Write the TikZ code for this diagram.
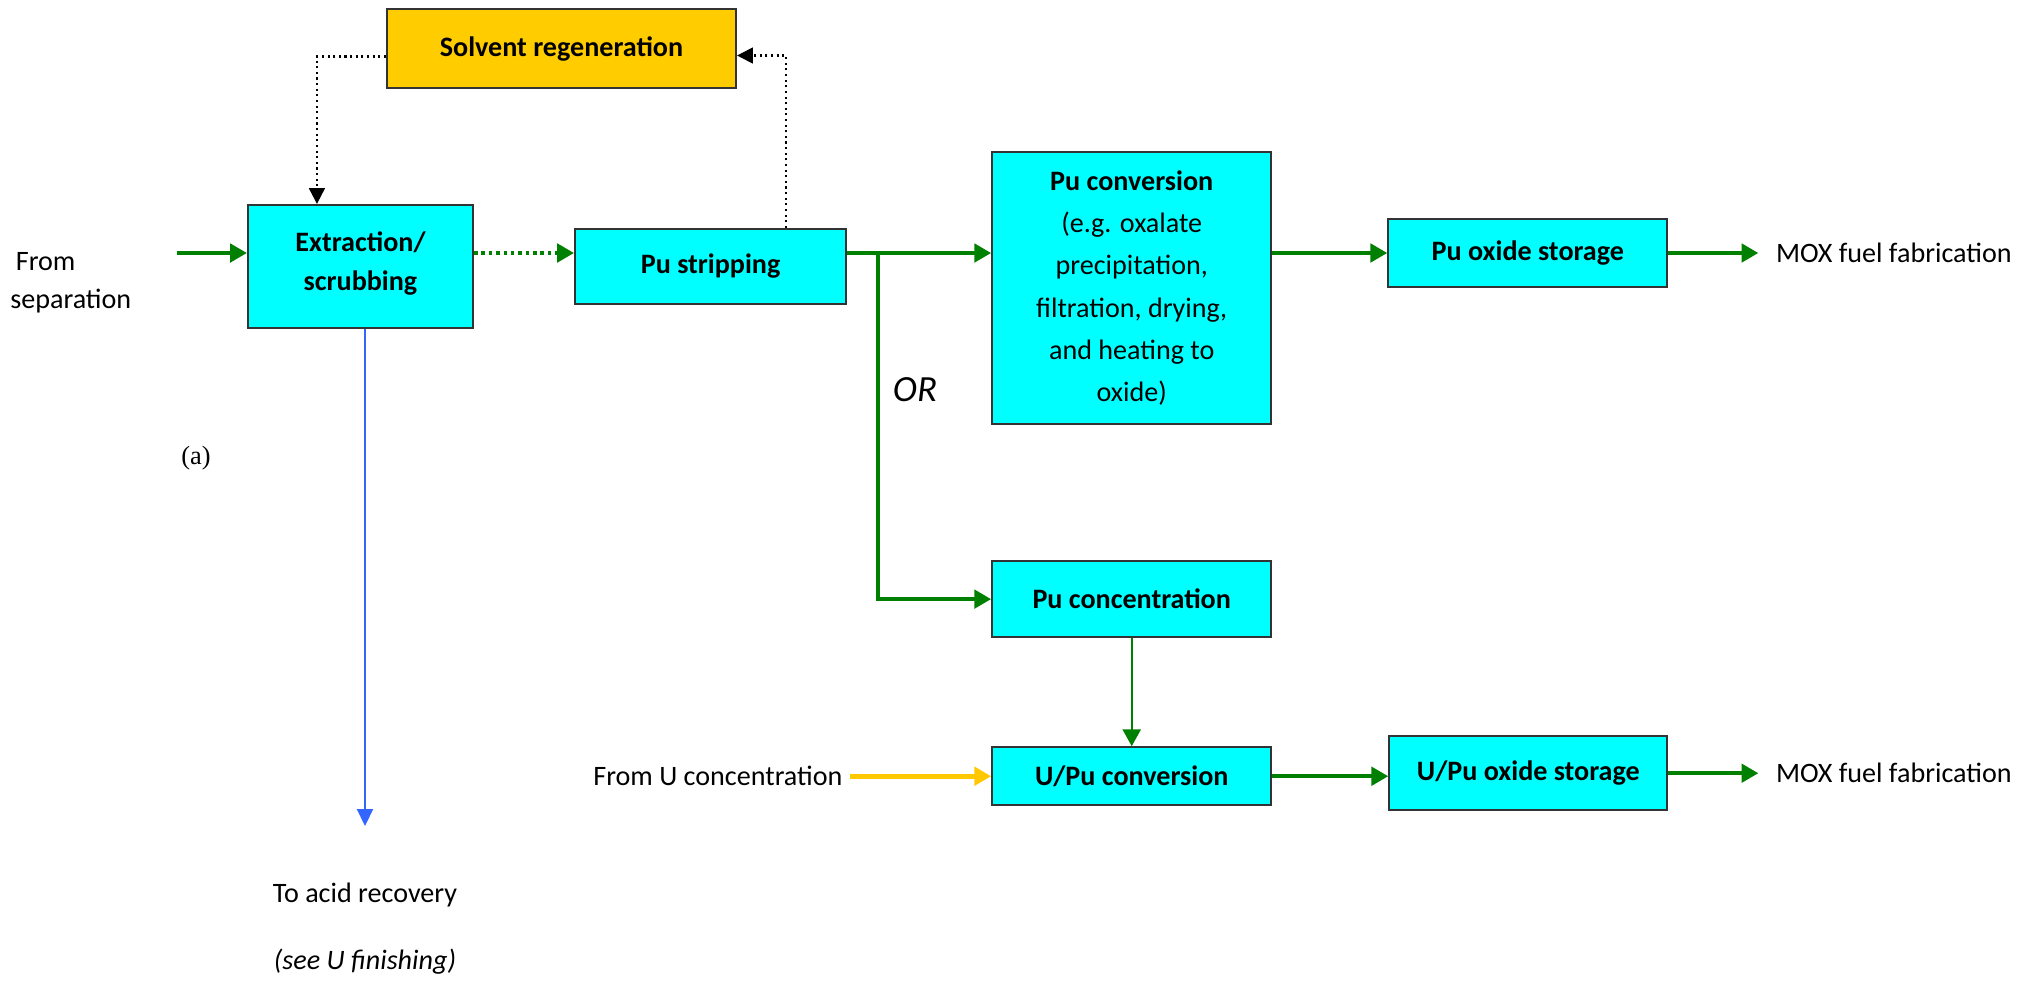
\documentclass[tikz,border=0pt]{standalone}
\usepackage{fontspec}
\setmainfont{Carlito}
\newfontfamily\serifcap{Liberation Serif}
\usetikzlibrary{arrows.meta,positioning,calc}
\definecolor{boxcyan}{HTML}{00FFFF}
\definecolor{solvgold}{HTML}{FFCC00}
\definecolor{flowgreen}{HTML}{008000}
\definecolor{acidblue}{HTML}{3366FF}
\definecolor{feedgold}{HTML}{FFC800}
\tikzstyle{block}=[draw=black!80, line width=0.6pt, fill=boxcyan, align=center, font=\bfseries]
\tikzstyle{txt}=[inner sep=2pt, align=left]
\tikzstyle{arrow}=[line width=1.15pt, draw=flowgreen, -{Triangle[length=4.8pt,width=5.2pt]}]
\tikzstyle{loopline}=[line width=0.6pt, densely dotted, -{Triangle[length=4.5pt,width=4.5pt]}]

\begin{document}
\fontsize{8pt}{10.9pt}\selectfont
\begin{tikzpicture}
\fill[white] (0,0) rectangle (20.33,-9.81);
\useasboundingbox (0,0) rectangle (20.33,-9.81);

\node (ext) [block, minimum width=2.25cm, minimum height=1.23cm, text depth=3pt] at (3.605,-2.665) {Extraction/\\scrubbing};
\node (strip) [block, right=1cm of ext, minimum width=2.71cm, minimum height=0.75cm] {Pu stripping};
\node (conv) [block, font=\mdseries\fontsize{8pt}{12pt}\selectfont, right=1.44cm of strip, yshift=-0.215cm, minimum width=2.79cm, minimum height=2.72cm] {\textbf{Pu conversion}\\(e.g. oxalate\\precipitation,\\filtration, drying,\\and heating to\\oxide)};
\node (ox) [block, right=1.15cm of conv, yshift=0.35cm, minimum width=2.79cm, minimum height=0.68cm] {Pu oxide storage};
\node (mox) [txt, right=1cm of ox] {MOX fuel fabrication};
\node (sep) [txt, left=1.08cm of ext, yshift=-0.165cm] {\hspace{0.2em}From\\separation};

\node (solv) [block, fill=solvgold, minimum width=3.49cm, minimum height=0.79cm] at (5.615,-0.485) {Solvent regeneration};

\node (conc) [block, below=1.35cm of conv, minimum width=2.79cm, minimum height=0.76cm] {Pu concentration};
\node (upconv) [block, below=1.08cm of conc, minimum width=2.79cm, minimum height=0.58cm] {U/Pu conversion};
\node (upox) [block, right=1.16cm of upconv, yshift=0.03cm, minimum width=2.78cm, minimum height=0.74cm] {U/Pu oxide storage};
\node (mox2) [txt, right=1cm of upox] {MOX fuel fabrication};
\node (fromU) [txt, left=1.41cm of upconv] {From U concentration};

\node (acid) [txt, below=5.46cm of ext, xshift=0.045cm] {To acid recovery};
\node (see) [txt, below=0.27cm of acid] {\itshape (see U finishing)};
\node (or) at (9.15,-3.9) {\fontsize{10.5pt}{12pt}\selectfont\itshape OR};
\node (fig) at (1.96,-4.58) {\serifcap\fontsize{7.5pt}{9pt}\selectfont (a)};

% main Pu line
\draw[arrow, shorten <=0.38cm] (sep.east |- ox) -- (ext.west |- ox);
\draw[arrow, dash pattern=on 1pt off 1.1pt] (ext.east |- ox) -- (strip.west |- ox);
\draw[arrow] (strip.east |- ox) -- (conv.west |- ox);
\draw[arrow] (conv.east |- ox) -- (ox);
\draw[arrow, shorten >=0.1cm] (ox) -- (mox);

% solvent loop
\draw[loopline] ([yshift=-0.08cm]solv.west) -| ([xshift=0.7cm]ext.north west);
\draw[loopline] ([xshift=-0.61cm]strip.north east) |- ([yshift=-0.07cm]solv.east);

% alternative route
\coordinate (fork) at ($(strip.east |- ox)+(0.31,0)$);
\draw[arrow] (fork) |- (conc.west);
\draw[arrow, line width=0.5pt] (conc) -- (upconv);
\draw[arrow, draw=feedgold, line width=1.4pt] (fromU) -- (upconv);
\draw[arrow] (upconv.east) -- (upconv.east -| upox.west);
\draw[arrow, shorten >=0.1cm] (upox.east |- mox2) -- (mox2);

% raffinate
\draw[line width=0.55pt, draw=acidblue, -{Triangle[length=4.8pt,width=4.5pt]}, shorten >=0.49cm] (ext.south -| acid) -- (acid);
\end{tikzpicture}
\end{document}
